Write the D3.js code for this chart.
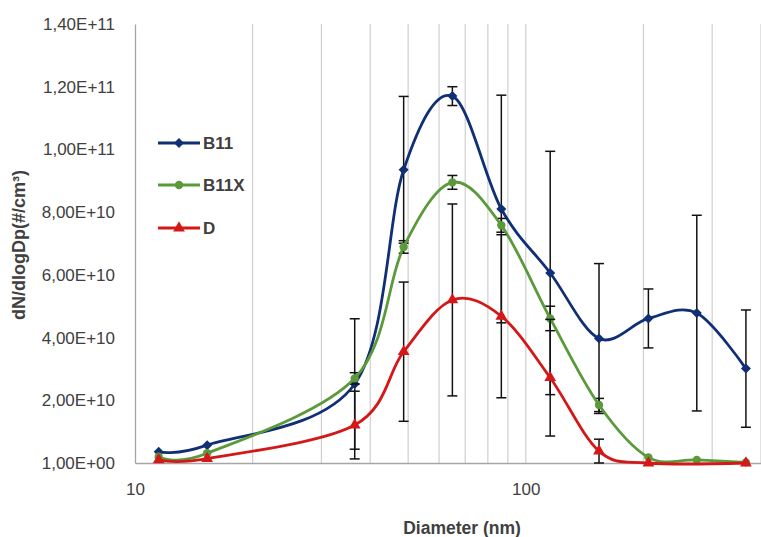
<!DOCTYPE html>
<html>
<head>
<meta charset="utf-8">
<script src="https://cdn.jsdelivr.net/npm/d3@7"></script>
<style>
body { margin: 0; background: #fff; }
text { font-family: "Liberation Sans", Arial, sans-serif; }
</style>
</head>
<body>
<svg width="761" height="537"></svg>
<script>
// diameters (nm) and dN/dlogDp values
var diameters = [11.5, 15.3, 36.5, 48.7, 64.9, 86.6, 115.5, 154, 206, 274, 366];
var b11Values = [3.6e9, 5.7e9, 2.52e10, 9.35e10, 1.17e11, 8.1e10, 6.06e10, 3.97e10, 4.61e10, 4.78e10, 3.01e10];
var b11Errors = [0, 0, 2.08e10, 2.34e10, 3.0e9, 3.63e10, 3.88e10, 2.39e10, 9.4e9, 3.12e10, 1.87e10];
var b11xValues = [2.0e9, 3.1e9, 2.7e10, 6.89e10, 8.95e10, 7.58e10, 4.61e10, 1.85e10, 1.8e9, 1.0e9, 2e8];
var b11xErrors = [0, 0, 1.8e9, 2.0e9, 2.2e9, 2.2e9, 3.9e9, 2.1e9, 0, 0, 0];
var dDiameters = [11.5, 15.3, 36.5, 48.7, 64.9, 86.6, 115.5, 154, 206, 366];
var dValues = [1.0e9, 1.4e9, 1.21e10, 3.55e10, 5.2e10, 4.68e10, 2.72e10, 3.8e9, 0, 0];
var dErrors = [0, 0, 1.08e10, 2.22e10, 3.06e10, 2.6e10, 1.86e10, 3.8e9, 0, 0];

var yTicks = [0, 2e10, 4e10, 6e10, 8e10, 1e11, 1.2e11, 1.4e11];
var yTickLabels = ['1,00E+00', '2,00E+10', '4,00E+10', '6,00E+10', '8,00E+10', '1,00E+11', '1,20E+11', '1,40E+11'];
var xTicks = [10, 100];
var xGrid = [20, 30, 40, 50, 60, 70, 80, 90, 100, 200, 300, 400];

var svg = d3.select('svg');
var plot = {l: 135, r: 761, t: 24, b: 463};

var x = d3.scaleLog().domain([10, 400]).range([plot.l, plot.r]);
var y = d3.scaleLinear().domain([0, 1.4e11]).range([plot.b, plot.t]);

// vertical gridlines
svg.append('g').selectAll('line')
    .data(xGrid)
    .enter().append('line')
    .attr('x1', function(d) { return x(d); })
    .attr('x2', function(d) { return x(d); })
    .attr('y1', plot.t)
    .attr('y2', plot.b)
    .attr('stroke', '#cfcfcf')
    .attr('stroke-width', 1.2);

// axes
var yAxis = svg.append('g')
    .attr('transform', 'translate(' + plot.l + ',0)')
    .call(d3.axisLeft(y).tickValues(yTicks)
        .tickFormat(function(d, i) { return yTickLabels[i]; })
        .tickSize(0).tickPadding(20));
yAxis.select('.domain').attr('stroke', '#a6a6a6').attr('stroke-width', 1.3);
yAxis.selectAll('text').attr('font-size', 17).attr('fill', '#404040')
    .style('font-family', '"Liberation Sans", Arial, sans-serif');

var xAxis = svg.append('g')
    .attr('transform', 'translate(0,' + plot.b + ')')
    .call(d3.axisBottom(x).tickValues(xTicks)
        .tickFormat(d3.format('d'))
        .tickSize(0).tickPadding(20));
xAxis.select('.domain').attr('stroke', '#a6a6a6').attr('stroke-width', 1.3);
xAxis.selectAll('text').attr('font-size', 17).attr('fill', '#404040')
    .style('font-family', '"Liberation Sans", Arial, sans-serif');

// axis titles
svg.append('text')
    .attr('x', 462).attr('y', 534)
    .attr('text-anchor', 'middle')
    .attr('font-size', 17.5).attr('font-weight', 700).attr('fill', '#404040')
    .text('Diameter (nm)');

svg.append('text')
    .attr('transform', 'translate(19,245) rotate(-90)')
    .attr('text-anchor', 'middle')
    .attr('dominant-baseline', 'central')
    .attr('font-size', 18).attr('font-weight', 700).attr('fill', '#404040')
    .text('dN/dlogDp(#/cm³)');

var series = [
    {name: 'B11', xs: diameters, vals: b11Values, errs: b11Errors, color: '#102f74',
        symbol: d3.symbolSquare, size: 50, rotate: 45},
    {name: 'B11X', xs: diameters, vals: b11xValues, errs: b11xErrors, color: '#5b9a3b',
        symbol: d3.symbolCircle, size: 55, rotate: 0},
    {name: 'D', xs: dDiameters, vals: dValues, errs: dErrors, color: '#d41818',
        symbol: d3.symbolTriangle, size: 60, rotate: 0}
];

var line = d3.line()
    .x(function(d) { return x(d.d); })
    .y(function(d) { return y(d.v); })
    .curve(d3.curveCardinal.tension(0));

series.forEach(function(s) {
    var pts = s.xs.map(function(d, i) { return {d: d, v: s.vals[i], e: s.errs[i]}; });
    var g = svg.append('g');

    // error bars
    var bars = g.selectAll('.err')
        .data(pts.filter(function(p) { return p.e > 0; }))
        .enter().append('g').attr('class', 'err');
    bars.append('line')
        .attr('x1', function(p) { return x(p.d); })
        .attr('x2', function(p) { return x(p.d); })
        .attr('y1', function(p) { return y(p.v - p.e); })
        .attr('y2', function(p) { return y(p.v + p.e); });
    [-1, 1].forEach(function(sign) {
        bars.append('line')
            .attr('x1', function(p) { return x(p.d) - 5; })
            .attr('x2', function(p) { return x(p.d) + 5; })
            .attr('y1', function(p) { return y(p.v + sign * p.e); })
            .attr('y2', function(p) { return y(p.v + sign * p.e); });
    });
    bars.selectAll('line').attr('stroke', '#111').attr('stroke-width', 1.5);

    g.append('path')
        .datum(pts)
        .attr('d', line)
        .attr('fill', 'none')
        .attr('stroke', s.color)
        .attr('stroke-width', 2.8);

    g.selectAll('.mark')
        .data(pts)
        .enter().append('path')
        .attr('class', 'mark')
        .attr('d', d3.symbol(s.symbol, s.size))
        .attr('transform', function(p) {
            return 'translate(' + x(p.d) + ',' + y(p.v) + ') rotate(' + s.rotate + ')';
        })
        .attr('fill', s.color);
});

// legend
var legendY = [143, 185, 228];
var legend = svg.selectAll('.legend')
    .data(series)
    .enter().append('g')
    .attr('class', 'legend')
    .attr('transform', function(s, i) { return 'translate(158,' + legendY[i] + ')'; });
legend.append('line')
    .attr('x1', 0).attr('x2', 42)
    .attr('stroke', function(s) { return s.color; })
    .attr('stroke-width', 2.8);
legend.append('path')
    .attr('d', function(s) { return d3.symbol(s.symbol, s.size)(); })
    .attr('transform', function(s) { return 'translate(21,0) rotate(' + s.rotate + ')'; })
    .attr('fill', function(s) { return s.color; });
legend.append('text')
    .attr('x', 45).attr('dy', '0.36em')
    .attr('font-size', 17).attr('font-weight', 700).attr('fill', '#404040')
    .text(function(s) { return s.name; });
</script>
</body>
</html>
